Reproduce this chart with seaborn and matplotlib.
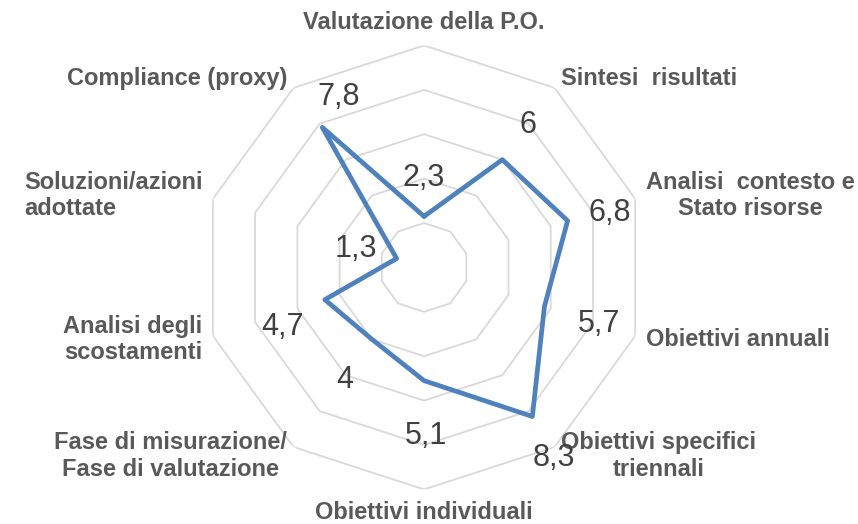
import numpy as np
import pandas as pd
import matplotlib
matplotlib.use("Agg")
import matplotlib.pyplot as plt
import seaborn as sns

# ------------------------------------------------------------
# Data
# ------------------------------------------------------------
categories = [
    "Valutazione della P.O.",
    "Sintesi  risultati",
    "Analisi  contesto e\nStato risorse",
    "Obiettivi annuali",
    "Obiettivi specifici\ntriennali",
    "Obiettivi individuali",
    "Fase di misurazione/\nFase di valutazione",
    "Analisi degli\nscostamenti",
    "Soluzioni/azioni\nadottate",
    "Compliance (proxy)",
]
values = [2.3, 6, 6.8, 5.7, 8.3, 5.1, 4, 4.7, 1.3, 7.8]
grid_levels = [2, 4, 6, 8, 10]

# label offsets (pixels, x right / y up) relative to each point
label_offsets = [(0, 38), (26, 35), (42, 8), (55, -17), (22, -42),
                 (2, -55), (-27, -41), (-42, -27), (-41, 10), (16, 30)]

# ------------------------------------------------------------
# Style
# ------------------------------------------------------------
sns.set_theme(style="white")
plt.rcParams["font.family"] = ["Liberation Sans", "DejaVu Sans"]

line_color = "#4F81BD"
grid_color = "#D9D9D9"
cat_color = "#595959"
val_color = "#404040"

n = len(categories)
theta = np.linspace(0, 2 * np.pi, n, endpoint=False)
df = pd.DataFrame({"theta": np.append(theta, 2 * np.pi),
                   "value": values + values[:1]})

fig = plt.figure(figsize=(8.58, 5.24), dpi=100)
ax = fig.add_axes([0.2355, 0.066, 0.5175, 0.8473], projection="polar")
ax.set_theta_offset(np.pi / 2)
ax.set_theta_direction(-1)

# decagon grid rings
ring_theta = np.append(theta, 2 * np.pi)
for lev in grid_levels:
    ax.plot(ring_theta, [lev] * len(ring_theta), color=grid_color, lw=1.3, zorder=1)

sns.lineplot(data=df, x="theta", y="value", ax=ax, sort=False,
             color=line_color, linewidth=3.4, zorder=3)

ax.set_ylim(0, 10)
ax.grid(False)
ax.set_xticks([])
ax.set_yticks([])
ax.set_xlabel("")
ax.set_ylabel("")
ax.spines["polar"].set_visible(False)
ax.patch.set_alpha(0)

# value labels
for t, v, off in zip(theta, values, label_offsets):
    ax.annotate(f"{v:g}".replace(".", ","), xy=(t, v), xytext=off,
                textcoords="offset pixels", ha="center", va="center",
                fontsize=22, color=val_color, zorder=4)

# category labels
for t, lab in zip(theta, categories):
    deg = np.degrees(t)
    if np.isclose(deg, 0):
        ha, va = "center", "bottom"
    elif np.isclose(deg, 180):
        ha, va = "center", "top"
    elif deg < 180:
        ha, va = "left", "center"
    else:
        ha, va = "right", "center"
    ma = "left" if lab.startswith("Soluzioni") else "center"
    ax.text(t, 10.5, lab, ha=ha, va=va, multialignment=ma,
            fontsize=17, fontweight="bold", color=cat_color)

fig.savefig("out.png", dpi=100)
